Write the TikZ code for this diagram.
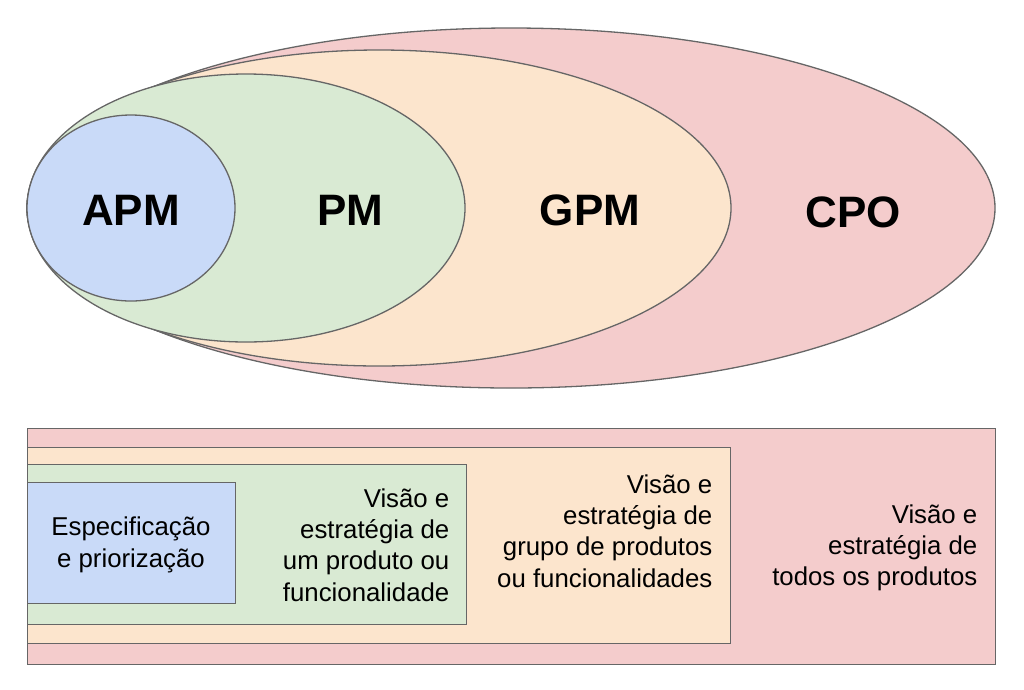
\documentclass[tikz,border=0pt]{standalone}
\usepackage{fontspec}
\setmainfont{Liberation Sans}
\usetikzlibrary{shapes.geometric}
\definecolor{cpored}{HTML}{F4CCCC}
\definecolor{gpmorange}{HTML}{FCE5CD}
\definecolor{pmgreen}{HTML}{D9EAD3}
\definecolor{apmblue}{HTML}{C9DAF8}
\definecolor{edgegray}{HTML}{666666}
\tikzset{
  every picture/.style={line width=1.3pt},
  ring/.style={draw=edgegray,ellipse,inner sep=0pt},
  band/.style={draw=edgegray,rectangle,inner sep=0pt,anchor=north west},
  role/.style={font=\fontsize{44}{44}\selectfont\bfseries},
  desc/.style={font=\fontsize{25.8}{31.3}\selectfont,align=right,inner sep=0pt,anchor=east},
}

\begin{document}
\begin{tikzpicture}[x=1pt,y=-1pt]
\useasboundingbox (0,0) rectangle (1024,689);
% nested ellipses
\node[ring,fill=cpored,minimum width=968pt,minimum height=360pt] (cpo) at (511,208) {};
\node[ring,fill=gpmorange,minimum width=704pt,minimum height=316pt] (gpm) at (379,208) {};
\node[ring,fill=pmgreen,minimum width=438pt,minimum height=268pt] (pm) at (246,208) {};
\node[ring,fill=apmblue,minimum width=208pt,minimum height=186pt] (apm) at (131,208) {};
\node[role] (apmlbl) at (131,210) {APM};
\node[role] (pmlbl) at (350,210) {PM};
\node[role] (gpmlbl) at (590,210) {GPM};
\node[role] (cpolbl) at (853,212) {CPO};
% nested boxes
\node[band,fill=cpored,minimum width=968pt,minimum height=236pt] (cpobox) at (27,428) {};
\node[band,fill=gpmorange,minimum width=703pt,minimum height=196pt] (gpmbox) at (27,447) {};
\node[band,fill=pmgreen,minimum width=439pt,minimum height=160pt] (pmbox) at (27,464) {};
\node[band,fill=apmblue,minimum width=208pt,minimum height=121pt] (apmbox) at (27,482) {};
\node[desc,align=center,anchor=center] (apmtxt) at (131,545) {Especificação\\e priorização};
\node[desc] (pmtxt) at (450,545) {Visão e\\estratégia de\\um produto ou\\funcionalidade};
\node[desc] (gpmtxt) at (713,531) {Visão e\\estratégia de\\grupo de produtos\\ou funcionalidades};
\node[desc] (cpotxt) at (978,548) {Visão e\\estratégia de\\todos os produtos};
\end{tikzpicture}
\end{document}
